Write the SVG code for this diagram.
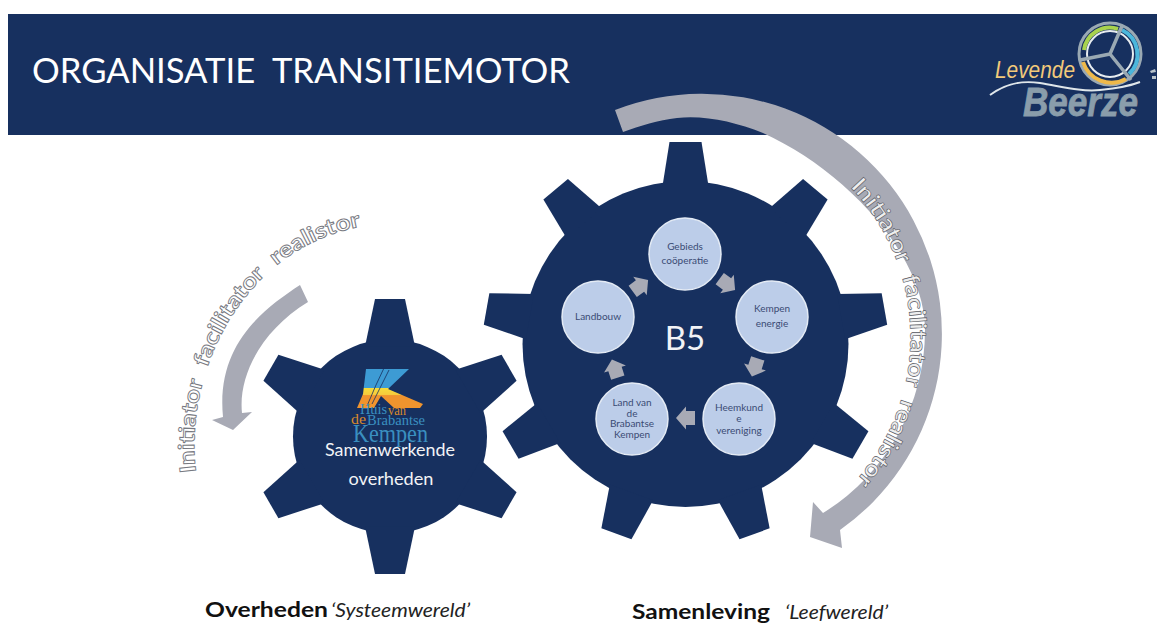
<svg xmlns="http://www.w3.org/2000/svg" width="1157" height="624" viewBox="0 0 1157 624">
<style>
text{font-family:"Lato","Liberation Sans",sans-serif}
.navy{fill:#17305f}
.gray{fill:#a8aab5}
.bub{fill:#bccde9;stroke:#e4ebf5;stroke-width:1.5}
.bt{font-size:10px;fill:#3a4b74;text-anchor:middle}
.wt{fill:#f2f3f6;text-anchor:middle}
.curve{font-weight:700;word-spacing:7px}
.ser{font-family:"Liberation Serif",serif}
</style>
<defs>
<path id="bigTooth" class="navy" d="M-23,-158L-16,-202H16L23,-158Z"/>
<path id="smallTooth" class="navy" d="M-25,-90L-15,-137.5H15L25,-90Z"/>
<path id="blockArrow" class="gray" d="M-9,-7H0V-11.500L10,0L0,11.500V7H-9Z"/>
<path id="bigCurve" d="M850,187A216 216 0 0 1 858,478"/>
<path id="smallCurve" d="M196,472C183,370 245,245 365,226"/>
<linearGradient id="kGrad" x1="0" y1="0" x2="0" y2="1">
<stop offset="0" stop-color="#3d9bd4"/><stop offset=".49" stop-color="#3d9bd4"/><stop offset=".5" stop-color="#f6dc3c"/><stop offset=".67" stop-color="#f6c93c"/><stop offset=".68" stop-color="#f0942e"/><stop offset="1" stop-color="#f0942e"/>
</linearGradient>
</defs>
<rect width="1157" height="624" fill="#fff"/>
<g id="banner">
<rect class="navy" x="8" y="14" width="1149" height="121"/>
<text x="32" y="83" font-size="34" fill="#fff" textLength="538" lengthAdjust="spacingAndGlyphs" xml:space="preserve">ORGANISATIE  TRANSITIEMOTOR</text>
</g>
<g id="logo-levende-beerze">
<path d="M990,95C1005,84 1020,80 1040,83S1080,92 1100,90S1130,86 1140,82" fill="none" stroke="#dfe6ea" stroke-width="2"/>
<circle cx="1110" cy="54" r="31" fill="none" stroke="#9aa9b3" stroke-width="3"/>
<path d="M1084,50A26 26 0 0 1 1118,29" fill="none" stroke="#a8d24e" stroke-width="4"/>
<path d="M1122,30A27 27 0 0 1 1129,74" fill="none" stroke="#4cb7dc" stroke-width="4"/>
<path d="M1126,79A30 30 0 0 1 1083,62" fill="none" stroke="#eeb94a" stroke-width="4"/>
<circle cx="1110" cy="54" r="23" fill="none" stroke="#e8edf0" stroke-width="2"/>
<path d="M1110,54L1122,26M1110,54L1080,60M1110,54L1131,80" fill="none" stroke="#9aa9b3" stroke-width="3.500"/>
<path d="M1150,71l5,-2l1,3l-5,1zM1152,76l4,0v3l-4,0z" fill="#b9c4cb"/>
<text x="995" y="78" font-size="24" font-style="italic" fill="#f2c97a" textLength="80" lengthAdjust="spacingAndGlyphs" style="font-family:'Liberation Sans',sans-serif">Levende</text>
<text x="1023" y="116" font-size="40" font-weight="700" font-style="italic" fill="#8a9dab" stroke="#8a9dab" stroke-width=".8" textLength="115" lengthAdjust="spacingAndGlyphs" style="font-family:'Liberation Sans',sans-serif">Beerze</text>
</g>
<g id="gear-overheden">
<circle class="navy" cx="390" cy="436.500" r="97"/>
<use href="#smallTooth" transform="translate(390 436.500)"/>
<use href="#smallTooth" transform="translate(390 436.500) rotate(60)"/>
<use href="#smallTooth" transform="translate(390 436.500) rotate(120)"/>
<use href="#smallTooth" transform="translate(390 436.500) rotate(180)"/>
<use href="#smallTooth" transform="translate(390 436.500) rotate(240)"/>
<use href="#smallTooth" transform="translate(390 436.500) rotate(300)"/>
<path d="M366,369H409L388,389L423,404L420,408H394L381,396L374,408H357L363,394Z" fill="url(#kGrad)"/>
<path d="M384,368L376,385L367,406M389,370L380,388L372,404" fill="none" stroke="#17305f" stroke-width=".8"/>
<text class="ser" x="360" y="414" font-size="15" fill="#3a8fc0" textLength="27" lengthAdjust="spacingAndGlyphs">Huis</text>
<text class="ser" x="388" y="415" font-size="14" fill="#d98a2c" textLength="18" lengthAdjust="spacingAndGlyphs">van</text>
<text class="ser" x="351" y="424" font-size="15" fill="#d98a2c" textLength="15" lengthAdjust="spacingAndGlyphs">de</text>
<text class="ser" x="367" y="425" font-size="15" fill="#3a8fc0" textLength="58" lengthAdjust="spacingAndGlyphs">Brabantse</text>
<text class="ser" x="353" y="442" font-size="25" fill="#3a8fc0" textLength="75" lengthAdjust="spacingAndGlyphs">Kempen</text>
<text class="wt" x="390" y="456" font-size="17" textLength="130" lengthAdjust="spacingAndGlyphs">Samenwerkende</text>
<text class="wt" x="391" y="485" font-size="17" textLength="85" lengthAdjust="spacingAndGlyphs">overheden</text>
</g>
<g id="gear-b5">
<circle class="navy" cx="685.500" cy="344" r="163"/>
<use href="#bigTooth" transform="translate(685.500 344)"/>
<use href="#bigTooth" transform="translate(685.500 344) rotate(40)"/>
<use href="#bigTooth" transform="translate(685.500 344) rotate(80)"/>
<use href="#bigTooth" transform="translate(685.500 344) rotate(120)"/>
<use href="#bigTooth" transform="translate(685.500 344) rotate(160)"/>
<use href="#bigTooth" transform="translate(685.500 344) rotate(200)"/>
<use href="#bigTooth" transform="translate(685.500 344) rotate(240)"/>
<use href="#bigTooth" transform="translate(685.500 344) rotate(280)"/>
<use href="#bigTooth" transform="translate(685.500 344) rotate(320)"/>
<text class="wt" x="685" y="350" font-size="33">B5</text>
</g>
<g id="node-gebieds"><circle class="bub" cx="685" cy="254" r="36"/><text class="bt" x="685" y="250">Gebieds</text><text class="bt" x="685" y="264">coöperatie</text></g>
<g id="node-kempen"><circle class="bub" cx="772" cy="317" r="36"/><text class="bt" x="772" y="312">Kempen</text><text class="bt" x="772" y="327">energie</text></g>
<g id="node-heemkunde"><circle class="bub" cx="739" cy="419" r="36"/><text class="bt" x="739" y="411">Heemkund</text><text class="bt" x="739" y="422">e</text><text class="bt" x="739" y="434">vereniging</text></g>
<g id="node-land"><circle class="bub" cx="632" cy="419" r="36"/><text class="bt" x="632" y="406">Land van</text><text class="bt" x="632" y="417">de</text><text class="bt" x="632" y="427">Brabantse</text><text class="bt" x="632" y="438">Kempen</text></g>
<g id="node-landbouw"><circle class="bub" cx="598" cy="317" r="36"/><text class="bt" x="598" y="320">Landbouw</text></g>
<g id="connectors">
<use href="#blockArrow" transform="translate(727 284) rotate(36)"/>
<use href="#blockArrow" transform="translate(755 367) rotate(108)"/>
<use href="#blockArrow" transform="translate(686 418) rotate(180)"/>
<use href="#blockArrow" transform="translate(615 369) rotate(252)"/>
<use href="#blockArrow" transform="translate(640 286) rotate(-36)"/>
<path class="gray" d="M615,110A240 240 0 0 1 840,530L842,548L810,537L813,502L823,513A215 215 0 0 0 925,330C925,255 845,170 763,133C735,122 705,115 677,118C658,120 640,126 623,132Z"/>
<path class="gray" d="M300,285C262,310 216,345 223,417L212,420L233,430L252,412L242,413C238,375 262,330 308,302Z"/>
</g>
<g id="curved-labels">
<text font-size="23" class="curve" style="fill:#eeeeee;stroke:#55575f;stroke-width:.6"><textPath href="#bigCurve" textLength="322" lengthAdjust="spacingAndGlyphs">Initiator facilitator realistor</textPath></text>
<text font-size="22" class="curve" style="fill:#ffffff;stroke:#777981;stroke-width:.9"><textPath href="#smallCurve" textLength="325" lengthAdjust="spacingAndGlyphs">Initiator facilitator realistor</textPath></text>
</g>
<g id="captions">
<text x="205" y="617" font-size="21" font-weight="700" fill="#111" textLength="123" lengthAdjust="spacingAndGlyphs">Overheden</text>
<text x="331" y="617" font-size="19" font-style="italic" fill="#222" textLength="139" lengthAdjust="spacingAndGlyphs">‘Systeemwereld’</text>
<text x="632" y="619" font-size="21" font-weight="700" fill="#111" textLength="138" lengthAdjust="spacingAndGlyphs">Samenleving</text>
<text x="785" y="619" font-size="19" font-style="italic" fill="#222" textLength="103" lengthAdjust="spacingAndGlyphs">‘Leefwereld’</text>
</g>
</svg>
